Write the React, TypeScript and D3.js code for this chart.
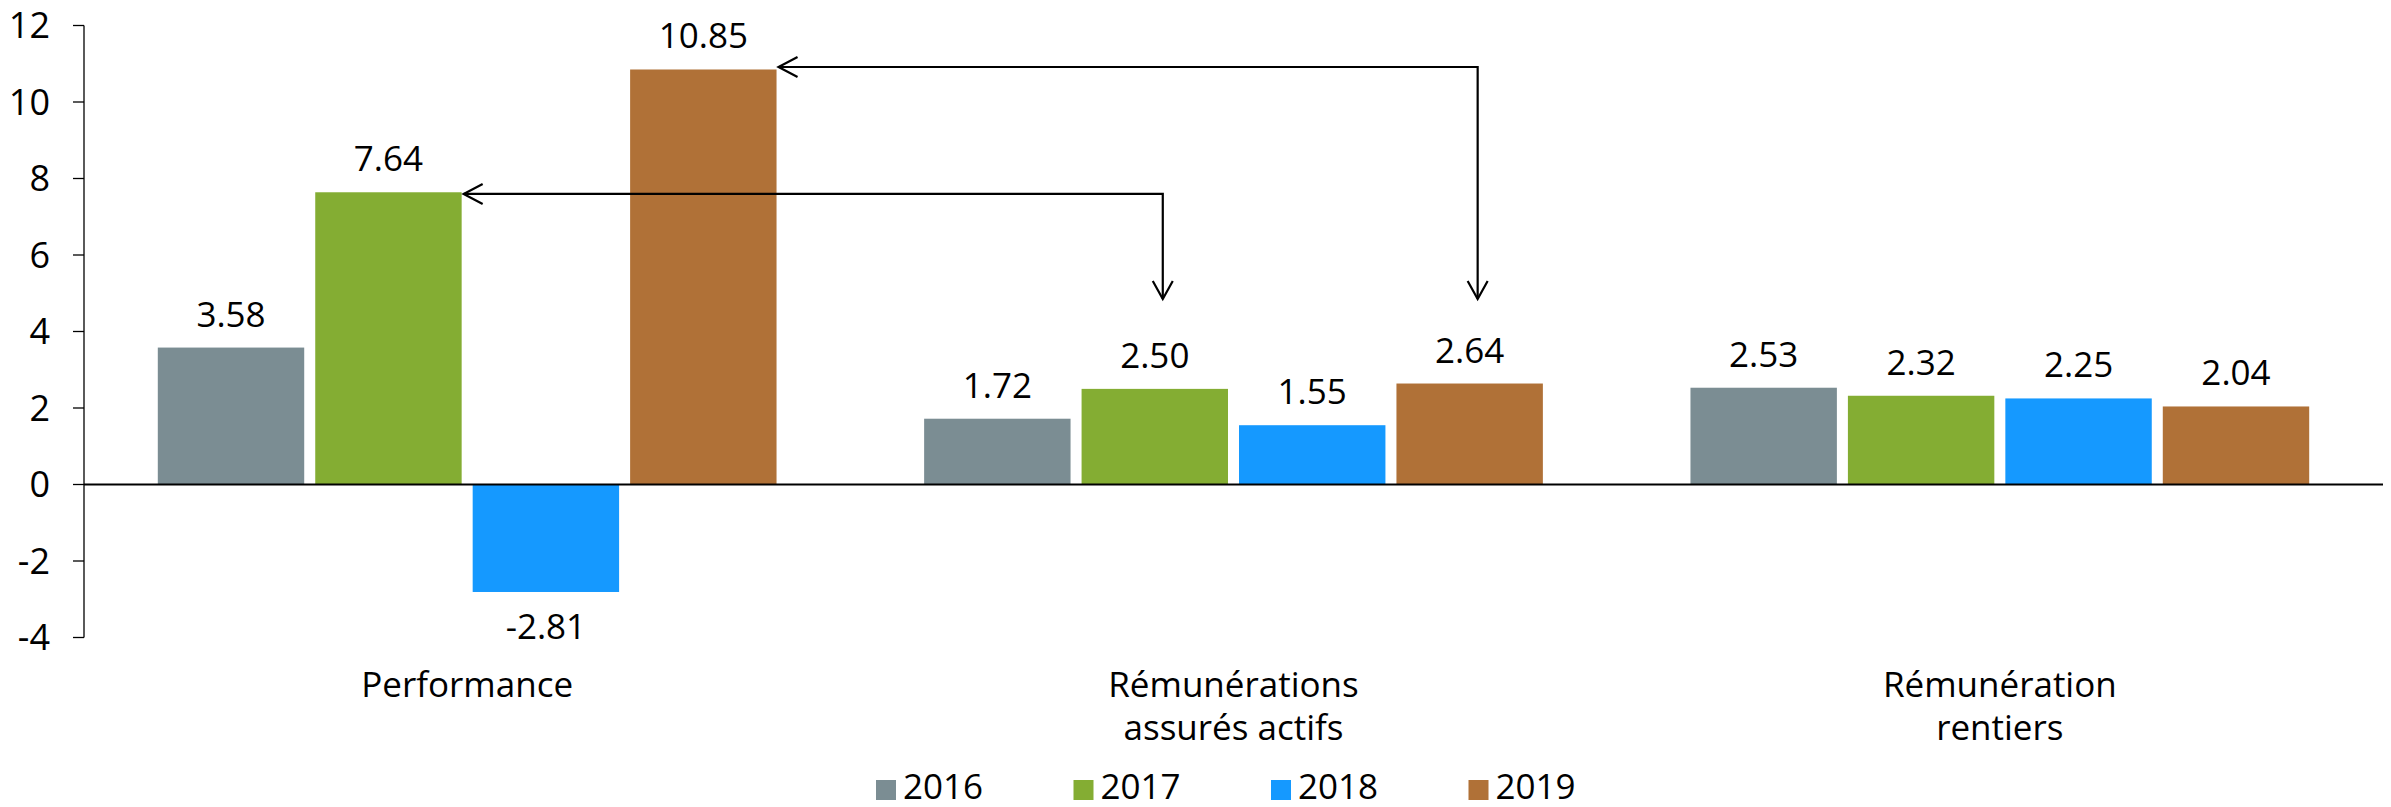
import React from "react";
import * as d3 from "d3";

const categories = ["Performance", "Rémunérations\nassurés actifs", "Rémunération\nrentiers"];
const years = ["2016", "2017", "2018", "2019"];
const values2016 = [3.58, 1.72, 2.53];
const values2017 = [7.64, 2.5, 2.32];
const values2018 = [-2.81, 1.55, 2.25];
const values2019 = [10.85, 2.64, 2.04];
const seriesValues = [values2016, values2017, values2018, values2019];
const colors = ["#7B8D93", "#84AD33", "#1599FF", "#B07137"];
const yTicks = [-4, -2, 0, 2, 4, 6, 8, 10, 12];

// arrows: from (category, year) bar top -> (category, year) target
const arrows = [
  { fromCat: 0, toCat: 1, year: 1 },
  { fromCat: 0, toCat: 1, year: 3 },
];

const W = 2391;
const H = 807;
const FONT = "'Open Sans', 'Noto Sans', sans-serif";

export default function App() {
  const x0 = d3.scaleBand<string>().domain(categories).range([84, 2383]).paddingInner(0).paddingOuter(0);
  const band = x0.bandwidth();
  const outer = band * 0.0963;
  const x1 = d3.scaleBand<string>().domain(years).range([outer, band - outer]).paddingInner(0.07);
  const bw = x1.bandwidth();
  const y = d3.scaleLinear().domain([-4, 12]).range([637.5, 25.5]);
  const fmt = (v: number) => d3.format(".2f")(v).replace("\u2212", "-");
  const tipY = y(4.85);

  return (
    <svg width={W} height={H} style={{ position: "absolute", left: 0, top: 0, background: "#fff" }} fontFamily={FONT}>
      {/* y axis */}
      <line x1={84} x2={84} y1={y(12)} y2={y(-4)} stroke="#000" strokeWidth={1.3} />
      {yTicks.map((t) => (
        <g key={t}>
          <line x1={73} x2={84} y1={y(t)} y2={y(t)} stroke="#000" strokeWidth={1.3} />
          <text x={50} y={y(t)} dy="0.35em" textAnchor="end" fontSize={36} fill="#000">
            {String(t)}
          </text>
        </g>
      ))}
      {/* bars */}
      {categories.map((c, ci) => (
        <g key={c} transform={`translate(${x0(c)},0)`}>
          {years.map((yr, si) => {
            const v = seriesValues[si][ci];
            const bx = x1(yr)!;
            const top = y(Math.max(0, v));
            const bot = y(Math.min(0, v));
            return (
              <g key={yr}>
                <rect x={bx} y={top} width={bw} height={bot - top} fill={colors[si]} />
                <text
                  x={bx + bw / 2}
                  y={v >= 0 ? y(v) - 21 : y(v) + 47}
                  textAnchor="middle"
                  fontSize={35}
                  fill="#000"
                >
                  {fmt(v)}
                </text>
              </g>
            );
          })}
        </g>
      ))}
      {/* zero line */}
      <line x1={84} x2={2383} y1={y(0)} y2={y(0)} stroke="#000" strokeWidth={2} />
      {/* category labels */}
      {categories.map((c) => {
        const lines = c.split("\n");
        return (
          <text key={c} x={x0(c)! + band / 2} y={697} textAnchor="middle" fontSize={35} fill="#000">
            {lines.map((l, i) => (
              <tspan key={i} x={x0(c)! + band / 2} dy={i === 0 ? 0 : 43}>
                {l}
              </tspan>
            ))}
          </text>
        );
      })}
      {/* arrows */}
      {arrows.map((a, i) => {
        const yr = years[a.year];
        const fromV = seriesValues[a.year][a.fromCat];
        const leftX = x0(categories[a.fromCat])! + x1(yr)! + bw + 2;
        const hy = y(fromV) + (a.year === 1 ? 1.7 : -2.5);
        const vx = x0(categories[a.toCat])! + x1(yr)! + bw / 2 + 8;
        return (
          <g key={i} fill="none" stroke="#000" strokeWidth={2.2}>
            <path d={`M${leftX},${hy} H${vx} V${tipY}`} />
            <path d={`M${leftX + 19},${hy - 10} L${leftX},${hy} L${leftX + 19},${hy + 10}`} />
            <path d={`M${vx - 10},${tipY - 18} L${vx},${tipY} L${vx + 10},${tipY - 18}`} />
          </g>
        );
      })}
      {/* legend */}
      {years.map((yr, i) => {
        const lx = 876 + i * 197.5;
        return (
          <g key={yr}>
            <rect x={lx} y={780} width={20} height={20} fill={colors[i]} />
            <text x={lx + 27} y={799} fontSize={35} fill="#000">
              {yr}
            </text>
          </g>
        );
      })}
    </svg>
  );
}
